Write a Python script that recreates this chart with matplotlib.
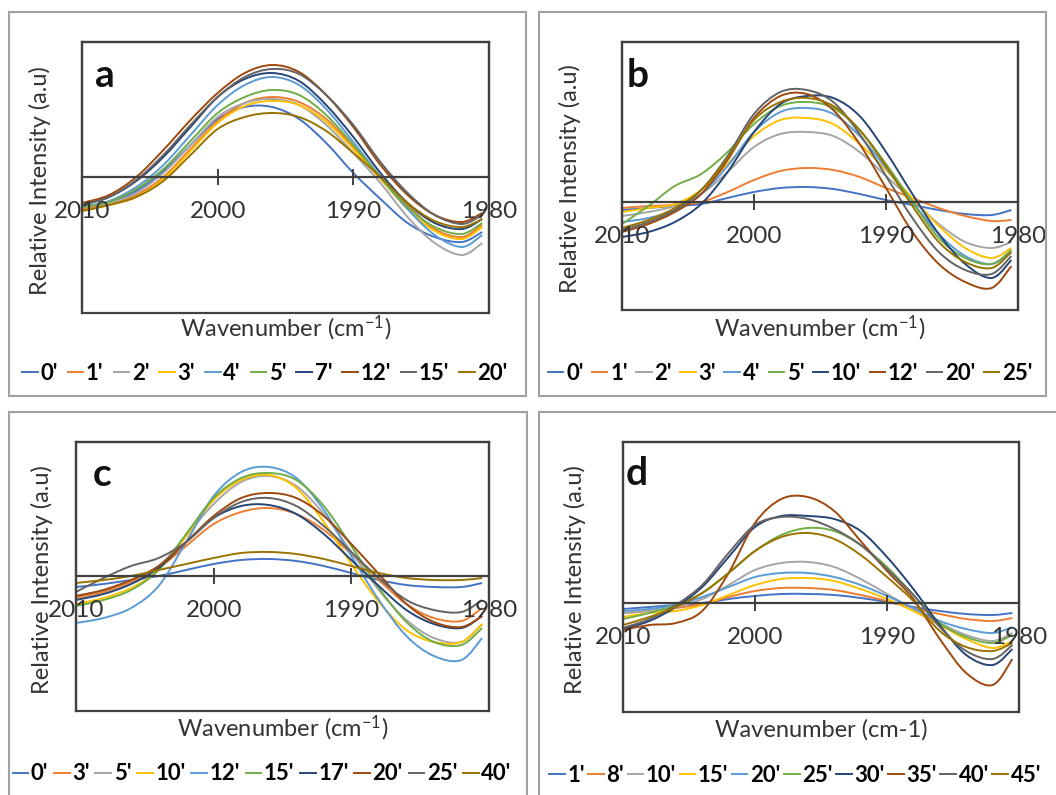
import matplotlib
matplotlib.use("Agg")
import matplotlib.pyplot as plt
from matplotlib.patches import Rectangle, PathPatch
from matplotlib.path import Path
from matplotlib.lines import Line2D

plt.rcParams["font.family"] = ["Lato", "DejaVu Sans"]
plt.rcParams["mathtext.fontset"] = "custom"
plt.rcParams["mathtext.rm"] = "Lato"
plt.rcParams["mathtext.it"] = "Lato:italic"
plt.rcParams["mathtext.bf"] = "Lato:bold"

# Excel default series colours
excel_colors = ["#4472C4", "#ED7D31", "#A5A5A5", "#FFC000", "#5B9BD5",
                "#70AD47", "#264478", "#9E480E", "#636363", "#997300"]

# wavenumber positions
wavenumber = [2010, 2008, 2006, 2004, 2002, 2000, 1998, 1996, 1994,
              1992, 1990, 1988, 1986, 1984, 1982, 1980.5]

# panel a
labels_a = ["0'", "1'", "2'", "3'", "4'", "5'", "7'", "12'", "15'", "20'"]
series_a = [
    [-30, -25, -14, 6, 32, 58, 70, 70, 58, 34, 4, -22, -46, -60, -65, -55],
    [-32, -27, -18, 0, 28, 56, 74, 80, 75, 58, 30, 0, -28, -52, -60, -48],
    [-30, -26, -16, 4, 32, 60, 74, 78, 72, 52, 24, -6, -40, -66, -78, -66],
    [-34, -28, -20, -2, 26, 54, 71, 76, 72, 55, 28, -2, -32, -54, -62, -50],
    [-30, -24, -10, 12, 42, 72, 92, 100, 92, 68, 35, 0, -32, -58, -70, -58],
    [-30, -25, -12, 8, 36, 64, 80, 87, 82, 62, 32, 0, -30, -50, -57, -46],
    [-28, -20, -4, 20, 50, 80, 98, 104, 96, 72, 40, 4, -26, -46, -52, -42],
    [-26, -18, 0, 27, 57, 84, 104, 112, 105, 82, 50, 12, -18, -38, -45, -36],
    [-28, -20, -3, 22, 52, 80, 100, 108, 103, 82, 52, 15, -16, -38, -47, -38],
    [-34, -28, -20, -4, 22, 48, 60, 64, 60, 46, 24, 0, -26, -44, -50, -42],
]

# panel b
labels_b = ["0'", "1'", "2'", "3'", "4'", "5'", "10'", "12'", "20'", "25'"]
series_b = [
    [-8, -6, -4, -2, 4, 10, 14, 15, 13, 8, 2, -3, -8, -12, -13, -8],
    [-6, -4, -3, 0, 10, 22, 31, 34, 32, 25, 14, 4, -6, -14, -19, -18],
    [-14, -10, -4, 8, 30, 55, 68, 70, 66, 50, 26, 2, -22, -40, -46, -40],
    [-10, -6, -2, 12, 38, 66, 82, 84, 78, 58, 32, 4, -24, -46, -56, -46],
    [-20, -16, -8, 8, 36, 70, 90, 94, 88, 66, 34, 0, -32, -54, -62, -50],
    [-22, -4, 16, 28, 50, 78, 96, 100, 94, 72, 38, 0, -36, -56, -62, -48],
    [-35, -30, -20, -2, 30, 70, 98, 106, 104, 86, 50, 8, -32, -62, -76, -58],
    [-30, -22, -10, 8, 42, 84, 106, 108, 92, 58, 14, -30, -62, -80, -86, -64],
    [-28, -20, -8, 12, 46, 88, 110, 112, 100, 68, 26, -16, -50, -68, -72, -54],
    [-26, -18, -6, 12, 44, 82, 100, 104, 96, 72, 36, -4, -40, -60, -66, -50],
]

# panel c
labels_c = ["0'", "3'", "5'", "10'", "12'", "15'", "17'", "20'", "25'", "40'"]
series_c = [
    [-11, -8, -4, 0, 6, 12, 16, 17, 15, 10, 3, -4, -9, -11, -11, -7],
    [-22, -16, -6, 8, 30, 52, 64, 68, 62, 46, 22, -4, -28, -42, -45, -32],
    [-20, -14, -4, 10, 40, 72, 94, 100, 90, 62, 24, -14, -44, -62, -66, -48],
    [-28, -22, -12, 6, 40, 76, 96, 101, 88, 54, 12, -26, -54, -66, -66, -48],
    [-47, -42, -32, -10, 34, 80, 104, 109, 98, 66, 20, -24, -60, -80, -84, -62],
    [-30, -24, -14, 6, 42, 78, 98, 103, 96, 70, 30, -12, -46, -66, -69, -52],
    [-24, -18, -8, 8, 34, 58, 70, 71, 62, 42, 16, -10, -34, -48, -52, -40],
    [-20, -14, -4, 10, 34, 60, 78, 83, 78, 60, 32, 2, -28, -46, -51, -40],
    [-16, -2, 10, 18, 34, 58, 74, 78, 70, 50, 24, -2, -24, -34, -36, -24],
    [-7, -4, 0, 6, 12, 18, 23, 24, 22, 17, 10, 3, -2, -4, -4, -2],
]

# panel d
labels_d = ["1'", "8'", "10'", "15'", "20'", "25'", "30'", "35'", "40'", "45'"]
series_d = [
    [-6, -4, -2, 0, 4, 7, 9, 9, 8, 5, 1, -4, -8, -11, -12, -10],
    [-10, -8, -5, -1, 6, 12, 15, 15, 13, 8, 2, -5, -11, -16, -18, -15],
    [-10, -8, -4, 4, 18, 33, 40, 41, 36, 24, 9, -6, -20, -32, -38, -30],
    [-14, -10, -8, -2, 8, 18, 24, 25, 22, 14, 4, -8, -22, -36, -45, -38],
    [-8, -6, -2, 6, 16, 26, 30, 30, 26, 18, 7, -5, -18, -26, -30, -24],
    [-16, -10, -2, 10, 30, 52, 68, 75, 72, 58, 36, 8, -20, -34, -40, -32],
    [-26, -18, -4, 16, 46, 76, 87, 87, 84, 72, 46, 14, -22, -52, -62, -46],
    [-27, -22, -20, -8, 30, 80, 104, 106, 92, 62, 32, 4, -36, -70, -82, -56],
    [-25, -16, -2, 18, 50, 78, 86, 84, 74, 58, 34, 8, -24, -48, -56, -42],
    [-22, -14, -4, 10, 30, 52, 66, 70, 64, 48, 26, 2, -28, -44, -48, -40],
]

W, H = 1056, 795
fig = plt.figure(figsize=(W / 100, H / 100), dpi=100)


def fx(x):
    return x / W


def fy(y):
    return 1 - y / H


def smooth_path(xs, ys):
    # Excel style "smoothed line": bezier segments through the points
    pts = list(zip(xs, ys))
    n = len(pts)
    verts = [pts[0]]
    codes = [Path.MOVETO]
    for i in range(n - 1):
        p0 = pts[i - 1] if i > 0 else pts[i]
        p1 = pts[i]
        p2 = pts[i + 1]
        p3 = pts[i + 2] if i + 2 < n else pts[i + 1]
        c1 = (p1[0] + (p2[0] - p0[0]) / 6, p1[1] + (p2[1] - p0[1]) / 6)
        c2 = (p2[0] - (p3[0] - p1[0]) / 6, p2[1] - (p3[1] - p1[1]) / 6)
        verts += [c1, c2, p2]
        codes += [Path.CURVE4] * 3
    return Path(verts, codes)


# outer boxes round each panel (pixel coords: left, top, right, bottom)
for l, t, r, b in [(9, 12, 526, 396), (539, 12, 1046, 396),
                   (9, 412, 527, 800), (539, 412, 1060, 800)]:
    fig.add_artist(Rectangle((fx(l), fy(b)), fx(r - l), (b - t) / H,
                             transform=fig.transFigure, fill=False,
                             edgecolor="#a0a0a0", lw=1.5))

panels = [
    # letter, labels, series, axes box, ylim, xlabel, ylabel x, xlabel y,
    # letter pos, legend centre, legend column spacing
    ("a", labels_a, series_a, (82, 42, 489, 313), (-136, 135),
     "Wavenumber (cm$^{-1}$)", 40, 328, (95, 87), (265, 373), 0.45),
    ("b", labels_b, series_b, (622, 42, 1018, 310), (-108, 160),
     "Wavenumber (cm$^{-1}$)", 570, 328, (627, 87), (790, 373), 0.38),
    ("c", labels_c, series_c, (76, 442, 489, 711), (-135, 134),
     "Wavenumber (cm$^{-1}$)", 42, 728, (93, 486), (262, 774), 0.26),
    ("d", labels_d, series_d, (623, 442, 1019, 712), (-109, 161),
     "Wavenumber (cm-1)", 575, 730, (626, 485), (795, 775), 0.16),
]

for letter, labels, series, box, ylim, xlab, ylab_x, xlab_y, lpos, legpos, colsp in panels:
    l, t, r, b = box
    ax = fig.add_axes([fx(l), fy(b), fx(r - l), (b - t) / H])
    handles = []
    for vals, lab, col in zip(series, labels, excel_colors):
        ax.add_patch(PathPatch(smooth_path(wavenumber, vals), fill=False,
                               edgecolor=col, lw=1.4))
        handles.append(Line2D([], [], color=col, lw=1.4, label=lab))
    ax.set_xlim(2010, 1980)
    ax.set_ylim(*ylim)
    ax.set_yticks([])
    ax.set_xticks([2010, 2000, 1990, 1980])
    ax.set_xticklabels(["2010", "2000", "1990", "1980"])
    for s in ["top", "left", "right"]:
        ax.spines[s].set_color("#404040")
        ax.spines[s].set_linewidth(1.6)
    ax.spines["bottom"].set_position(("data", 0))
    ax.spines["bottom"].set_color("#404040")
    ax.spines["bottom"].set_linewidth(1.6)
    ax.add_patch(Rectangle((0, 0), 1, 1, transform=ax.transAxes, fill=False,
                           edgecolor="#404040", lw=1.6, clip_on=False))
    ax.tick_params(axis="x", direction="inout", length=12, width=1.4,
                   color="#404040", pad=11, labelsize=17.5, labelcolor="#333333")
    ax.patch.set_alpha(0)

    fig.text(fx((l + r) / 2), fy(xlab_y), xlab, ha="center", va="center",
             fontsize=17, color="#333333")
    fig.text(fx(ylab_x), fy((t + b) / 2 + 3), "Relative Intensity (a.u)",
             rotation=90, ha="center", va="center", fontsize=17, color="#333333")
    fig.text(fx(lpos[0]), fy(lpos[1]), letter, ha="left", va="baseline",
             fontsize=28, fontweight="bold", color="#111111")
    fig.legend(handles=handles, loc="center",
               bbox_to_anchor=(fx(legpos[0]), fy(legpos[1])), ncol=10,
               frameon=False, prop={"weight": "bold", "size": 16},
               handlelength=0.7, handletextpad=0.12, columnspacing=colsp,
               borderpad=0, borderaxespad=0)

fig.savefig("out.png", dpi=100)
